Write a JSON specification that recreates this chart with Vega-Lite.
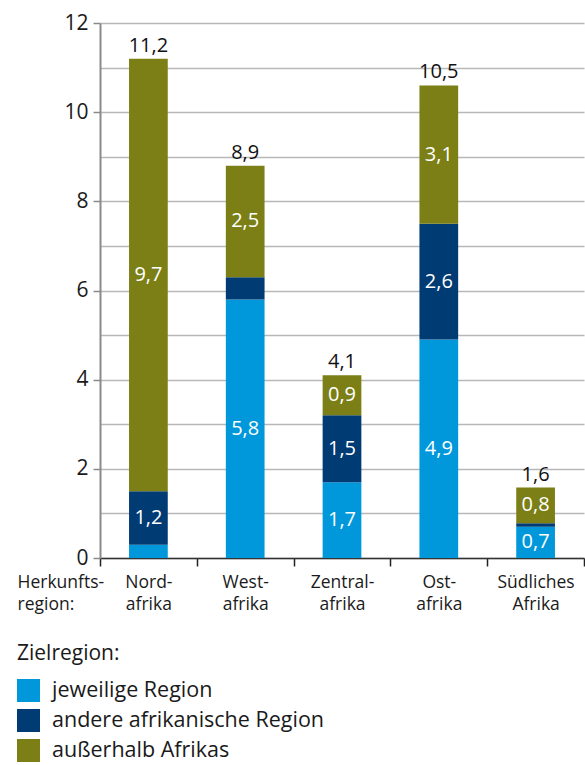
{
  "$schema": "https://vega.github.io/schema/vega-lite/v6.json",
  "autosize": {"type": "none"},
  "width": 484,
  "height": 535,
  "padding": {"left": 100, "top": 23, "right": 1, "bottom": 207},
  "background": "white",
  "config": {
    "font": "Open Sans",
    "view": {"stroke": null}
  },
  "data": {
    "values": [
      {"region": "Nordafrika", "ziel": "jeweilige Region", "rank": 1, "value": 0.3, "label": "", "total": "11,2"},
      {"region": "Nordafrika", "ziel": "andere afrikanische Region", "rank": 2, "value": 1.2, "label": "1,2", "total": "11,2"},
      {"region": "Nordafrika", "ziel": "außerhalb Afrikas", "rank": 3, "value": 9.7, "label": "9,7", "total": "11,2"},
      {"region": "Westafrika", "ziel": "jeweilige Region", "rank": 1, "value": 5.8, "label": "5,8", "total": "8,9"},
      {"region": "Westafrika", "ziel": "andere afrikanische Region", "rank": 2, "value": 0.5, "label": "", "total": "8,9"},
      {"region": "Westafrika", "ziel": "außerhalb Afrikas", "rank": 3, "value": 2.5, "label": "2,5", "total": "8,9"},
      {"region": "Zentralafrika", "ziel": "jeweilige Region", "rank": 1, "value": 1.7, "label": "1,7", "total": "4,1"},
      {"region": "Zentralafrika", "ziel": "andere afrikanische Region", "rank": 2, "value": 1.5, "label": "1,5", "total": "4,1"},
      {"region": "Zentralafrika", "ziel": "außerhalb Afrikas", "rank": 3, "value": 0.9, "label": "0,9", "total": "4,1"},
      {"region": "Ostafrika", "ziel": "jeweilige Region", "rank": 1, "value": 4.9, "label": "4,9", "total": "10,5"},
      {"region": "Ostafrika", "ziel": "andere afrikanische Region", "rank": 2, "value": 2.6, "label": "2,6", "total": "10,5"},
      {"region": "Ostafrika", "ziel": "außerhalb Afrikas", "rank": 3, "value": 3.1, "label": "3,1", "total": "10,5"},
      {"region": "Südliches Afrika", "ziel": "jeweilige Region", "rank": 1, "value": 0.7, "label": "0,7", "total": "1,6"},
      {"region": "Südliches Afrika", "ziel": "andere afrikanische Region", "rank": 2, "value": 0.08, "label": "", "total": "1,6"},
      {"region": "Südliches Afrika", "ziel": "außerhalb Afrikas", "rank": 3, "value": 0.8, "label": "0,8", "total": "1,6"}
    ]
  },
  "encoding": {
    "x": {
      "field": "region",
      "type": "nominal",
      "sort": null,
      "scale": {"paddingInner": 0, "paddingOuter": 0},
      "axis": {
        "title": ["Herkunfts-", "region:"],
        "titleFont": "Open Sans",
        "titleFontSize": 17.5,
        "titleFontWeight": "normal",
        "titleColor": "#1a1a1a",
        "titleAnchor": "start",
        "titleAlign": "left",
        "titleBaseline": "top",
        "titleLineHeight": 22,
        "titleX": -83,
        "titleY": 15,
        "labelAngle": 0,
        "labelFont": "Open Sans",
        "labelFontSize": 17.5,
        "labelColor": "#1a1a1a",
        "labelLineHeight": 22,
        "labelPadding": 7,
        "labelBaseline": "top",
        "labelExpr": "{'Nordafrika': ['Nord-', 'afrika'], 'Westafrika': ['West-', 'afrika'], 'Zentralafrika': ['Zentral-', 'afrika'], 'Ostafrika': ['Ost-', 'afrika'], 'Südliches Afrika': ['Südliches', 'Afrika']}[datum.value]",
        "tickBand": "extent",
        "tickSize": 8,
        "tickColor": "#222222",
        "tickWidth": 1.5,
        "domainColor": "#333333",
        "domainWidth": 1.5,
        "grid": false
      }
    }
  },
  "layer": [
    {
      "mark": {"type": "bar", "width": {"band": 0.4}},
      "encoding": {
        "y": {
          "field": "value",
          "type": "quantitative",
          "stack": "zero",
          "scale": {"domain": [0, 12], "nice": false},
          "axis": {
            "title": null,
            "values": [0, 1, 2, 3, 4, 5, 6, 7, 8, 9, 10, 11, 12],
            "labelExpr": "datum.value % 2 == 0 ? datum.label : ''",
            "labelFont": "Open Sans",
            "labelFontSize": 21,
            "labelColor": "#1a1a1a",
            "labelPadding": 5,
            "tickSize": 7,
            "tickWidth": 1.5,
            "tickColor": "#8a8a8a",
            "tickOpacity": {"condition": {"test": "datum.value % 2 == 0", "value": 1}, "value": 0},
            "domainColor": "#8a8a8a",
            "domainWidth": 2,
            "grid": true,
            "gridColor": "#b8b8b8",
            "gridWidth": 1.5
          }
        },
        "color": {
          "field": "ziel",
          "type": "nominal",
          "scale": {
            "domain": ["jeweilige Region", "andere afrikanische Region", "außerhalb Afrikas"],
            "range": ["#0098da", "#003b73", "#7b7f16"]
          },
          "legend": {
            "orient": "none",
            "legendX": -83,
            "legendY": 620,
            "direction": "vertical",
            "padding": 0,
            "title": "Zielregion:",
            "titleFont": "Open Sans",
            "titleFontSize": 21,
            "titleFontWeight": "normal",
            "titleColor": "#1a1a1a",
            "titlePadding": 15,
            "labelFont": "Open Sans",
            "labelFontSize": 21.5,
            "labelColor": "#1a1a1a",
            "labelOffset": 12,
            "labelLimit": 400,
            "symbolType": "square",
            "symbolSize": 529,
            "symbolStrokeWidth": 0,
            "symbolOpacity": 1,
            "rowPadding": 7
          }
        },
        "order": {"field": "rank", "type": "quantitative"}
      }
    },
    {
      "mark": {"type": "text", "color": "white", "fontSize": 20, "baseline": "middle", "align": "center"},
      "encoding": {
        "y": {"field": "value", "type": "quantitative", "stack": "zero", "bandPosition": 0.5},
        "text": {"field": "label"},
        "detail": {"field": "ziel"},
        "order": {"field": "rank", "type": "quantitative"}
      }
    },
    {
      "transform": [
        {"aggregate": [{"op": "sum", "field": "value", "as": "top"}], "groupby": ["region", "total"]}
      ],
      "mark": {"type": "text", "color": "#111111", "fontSize": 20, "baseline": "alphabetic", "align": "center", "dy": -7},
      "encoding": {
        "y": {"field": "top", "type": "quantitative"},
        "text": {"field": "total"}
      }
    }
  ]
}
